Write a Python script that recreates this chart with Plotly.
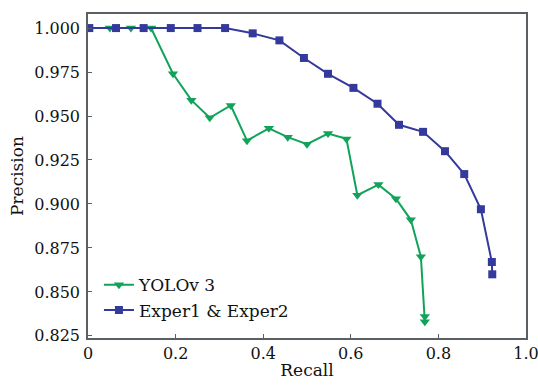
import plotly.graph_objects as go

yolo_recall = [0.050, 0.098, 0.144, 0.194, 0.236, 0.278, 0.326, 0.363, 0.413, 0.456, 0.500,
               0.548, 0.590, 0.615, 0.663, 0.703, 0.737, 0.760, 0.769, 0.769]
yolo_precision = [1.000, 1.000, 1.000, 0.974, 0.959, 0.949, 0.956, 0.936, 0.943, 0.938, 0.934,
                  0.940, 0.937, 0.905, 0.911, 0.903, 0.891, 0.870, 0.836, 0.833]

exper_recall = [0.003, 0.064, 0.127, 0.189, 0.250, 0.313, 0.376, 0.437, 0.493, 0.548, 0.606,
                0.661, 0.710, 0.765, 0.815, 0.859, 0.897, 0.922, 0.923]
exper_precision = [1.000, 1.000, 1.000, 1.000, 1.000, 1.000, 0.997, 0.993, 0.983, 0.974, 0.966,
                   0.957, 0.945, 0.941, 0.930, 0.917, 0.897, 0.867, 0.860]

x_tickvals = [0, 0.2, 0.4, 0.6, 0.8, 1.0]
x_ticktext = ["0", "0.2", "0.4", "0.6", "0.8", "1.0"]
y_tickvals = [0.825, 0.850, 0.875, 0.900, 0.925, 0.950, 0.975, 1.000]
y_ticktext = ["0.825", "0.850", "0.875", "0.900", "0.925", "0.950", "0.975", "1.000"]

GREEN = "#12a35a"
BLUE = "#343a9c"
FONT = "DejaVu Serif"

fig = go.Figure()
fig.add_trace(go.Scatter(
    x=yolo_recall, y=yolo_precision, mode="lines+markers", name="YOLOv 3",
    line=dict(color=GREEN, width=2),
    marker=dict(symbol="triangle-down", size=9, color=GREEN),
))
fig.add_trace(go.Scatter(
    x=exper_recall, y=exper_precision, mode="lines+markers", name="Exper1 & Exper2",
    line=dict(color=BLUE, width=2),
    marker=dict(symbol="square", size=8, color=BLUE),
))

axis_common = dict(
    showgrid=False, zeroline=False, showline=True, mirror=True,
    linecolor="#5a5f63", linewidth=1.5, automargin=False,
    ticks="inside", ticklen=4, tickcolor="#5a5f63", tickwidth=1,
    tickfont=dict(family=FONT, size=16, color="#111"),
    ticklabeloverflow="allow",
)

fig.update_layout(
    width=538, height=385,
    margin=dict(l=88, r=12, t=14, b=47, pad=0),
    plot_bgcolor="white", paper_bgcolor="white",
    font=dict(family=FONT, size=16, color="#111"),
    xaxis=dict(range=[0, 1.0], tickvals=x_tickvals, ticktext=x_ticktext,
               title=dict(text="Recall", font=dict(family=FONT, size=17), standoff=2),
               **axis_common),
    yaxis=dict(range=[0.8238, 1.008], tickvals=y_tickvals, ticktext=y_ticktext,
               ticklabelstandoff=3,
               title=dict(text="Precision", font=dict(family=FONT, size=17), standoff=6),
               **axis_common),
    legend=dict(x=0.025, y=0.03, xanchor="left", yanchor="bottom",
                bgcolor="rgba(0,0,0,0)", font=dict(family=FONT, size=17),
                tracegroupgap=0, itemwidth=30),
    showlegend=True,
)

fig.write_html("out.html", config={"displayModeBar": False},
               post_script="document.body.style.margin='0';document.body.style.overflow='hidden';")
